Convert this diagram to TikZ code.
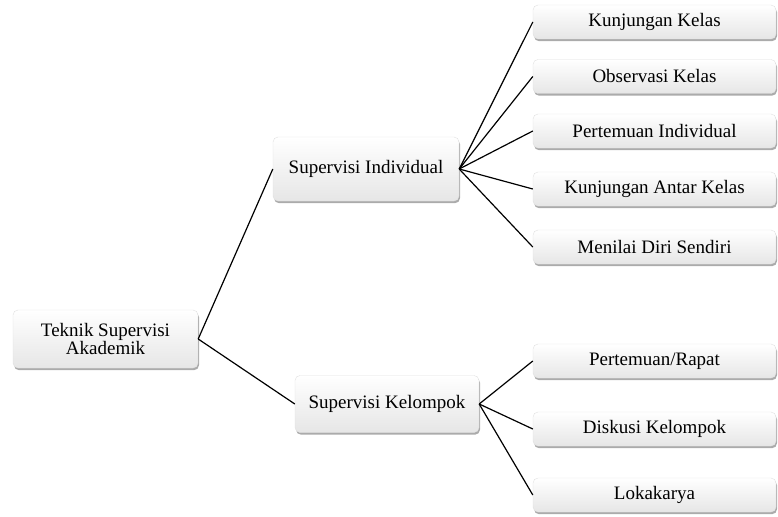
\documentclass[tikz,border=0pt]{standalone}
\usepackage{fontspec}
\setmainfont{Liberation Serif}
\usetikzlibrary{shadows}
\definecolor{boxbottom}{HTML}{E6E6E6}
\definecolor{boxline}{HTML}{E0E0E0}

\begin{document}
\begin{tikzpicture}[
      x=1pt,y=-1pt,
      box/.style={draw=boxline,line width=0.4pt,rounded corners=5pt,top color=white,bottom color=boxbottom,
        drop shadow={shadow xshift=1pt,shadow yshift=-2.2pt,fill=black!55,opacity=0.6},
        inner sep=0pt,align=center,font=\fontsize{19}{18.5}\selectfont},
      leaf/.style={box,minimum width=243pt,minimum height=34pt},
      link/.style={line width=1.2pt,black}
    ]
    \useasboundingbox (0,0) rectangle (778,516);
    % root and the two kinds
    \node[box,minimum width=185pt,minimum height=58pt] (teknik) at (105.5,339) {Teknik Supervisi\\Akademik};
    \node[box,minimum width=186pt,minimum height=64pt] (individu) at (366,169) {Supervisi Individual};
    \node[box,minimum width=184pt,minimum height=57pt] (kelompok) at (387,404) {Supervisi Kelompok};
    % individual techniques
    \node[leaf] (kunjungan) at (654.5,22) {Kunjungan Kelas};
    \node[leaf] (observasi) at (654.5,76.5) {Observasi Kelas};
    \node[leaf] (pertemuan) at (654.5,131) {Pertemuan Individual};
    \node[leaf] (antarkelas) at (654.5,189) {Kunjungan Antar Kelas};
    \node[leaf] (menilai) at (654.5,247) {Menilai Diri Sendiri};
    % group techniques
    \node[leaf] (rapat) at (654.5,361) {Pertemuan/Rapat};
    \node[leaf] (diskusi) at (654.5,429) {Diskusi Kelompok};
    \node[leaf] (lokakarya) at (654.5,495) {Lokakarya};
    \draw[link] (teknik.east) -- (individu.west);
    \draw[link] (teknik.east) -- (kelompok.west);
    \draw[link] (individu.east) -- (kunjungan.west);
    \draw[link] (individu.east) -- (observasi.west);
    \draw[link] (individu.east) -- (pertemuan.west);
    \draw[link] (individu.east) -- (antarkelas.west);
    \draw[link] (individu.east) -- (menilai.west);
    \draw[link] (kelompok.east) -- (rapat.west);
    \draw[link] (kelompok.east) -- (diskusi.west);
    \draw[link] (kelompok.east) -- (lokakarya.west);
  \end{tikzpicture}
\end{document}
